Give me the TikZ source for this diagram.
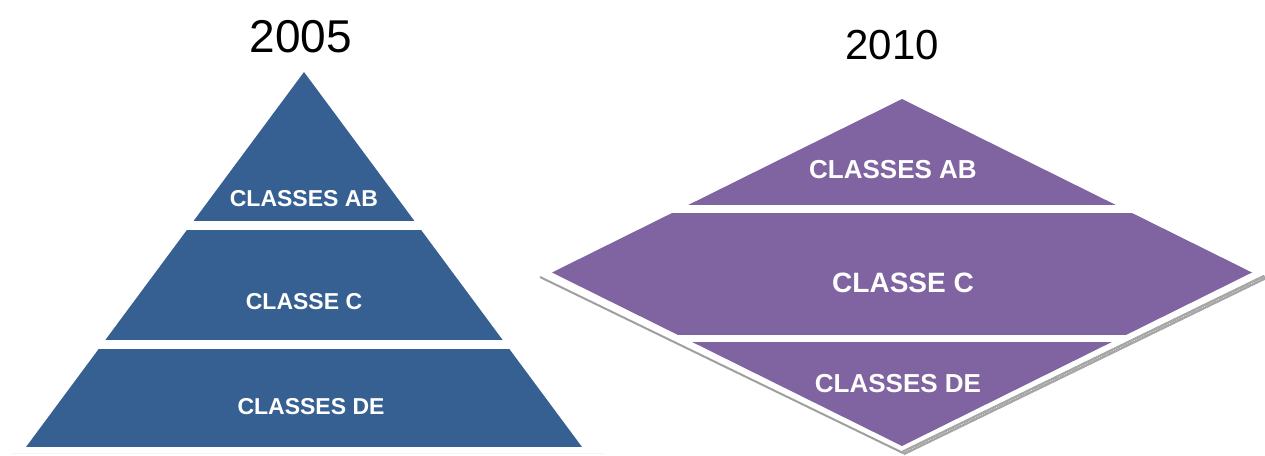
\documentclass[tikz,border=0pt]{standalone}
\usepackage{fontspec}
\setmainfont{Liberation Sans}
\definecolor{pyrblue}{RGB}{55,96,146}
\definecolor{diapurple}{RGB}{128,100,162}
\tikzset{year/.style={font=\fontsize{46}{50}\selectfont},
         tag/.style={text=white,font=\bfseries\fontsize{23}{26}\selectfont},
         bigtag/.style={tag,font=\bfseries\fontsize{26}{30}\selectfont},
         floor/.style={draw=gray!75,line width=2pt}}

\begin{document}
\begin{tikzpicture}[x=1pt,y=-1pt]
\useasboundingbox (0,0) rectangle (1265,455);

% 2005: triangle cut into three bands
\begin{scope}
  \clip (304,72) -- (582,447) -- (26,447) -- cycle;
  \foreach \top/\bot in {72/221, 230/340, 349/447}
    \fill[pyrblue] (0,\top) rectangle (620,\bot);
\end{scope}
\draw[gray!8,line width=1pt] (12,453) -- (605,453);

% 2010: shadow lines first, then the diamond
\draw[floor] (540,277) -- (903,453);
\draw[gray!70,line width=5pt] (903,453) -- (1265,277);
\draw[white,line width=0.6pt,dotted] (905,452) -- (1265,277);
\begin{scope}
  \clip (902,99) -- (1252,272.5) -- (902,446) -- (552,272.5) -- cycle;
  \foreach \top/\bot in {99/205, 213/335, 342/446}
    \fill[diapurple] (540,\top) rectangle (1265,\bot);
\end{scope}

% labels
\node[year] (y2005) at (301,37) {2005};
\node[year,font=\fontsize{42}{46}\selectfont] (y2010) at (892,45) {2010};
\node[tag] (ab05) at (304,198.5) {CLASSES AB};
\node[tag] (c05) at (304,302) {CLASSE C};
\node[tag] (de05) at (311,407) {CLASSES DE};
\node[bigtag] (ab10) at (893,170) {CLASSES AB};
\node[bigtag,font=\bfseries\fontsize{28}{32}\selectfont] (c10) at (903,283) {CLASSE C};
\node[bigtag] (de10) at (898,383.5) {CLASSES DE};
\end{tikzpicture}
\end{document}
